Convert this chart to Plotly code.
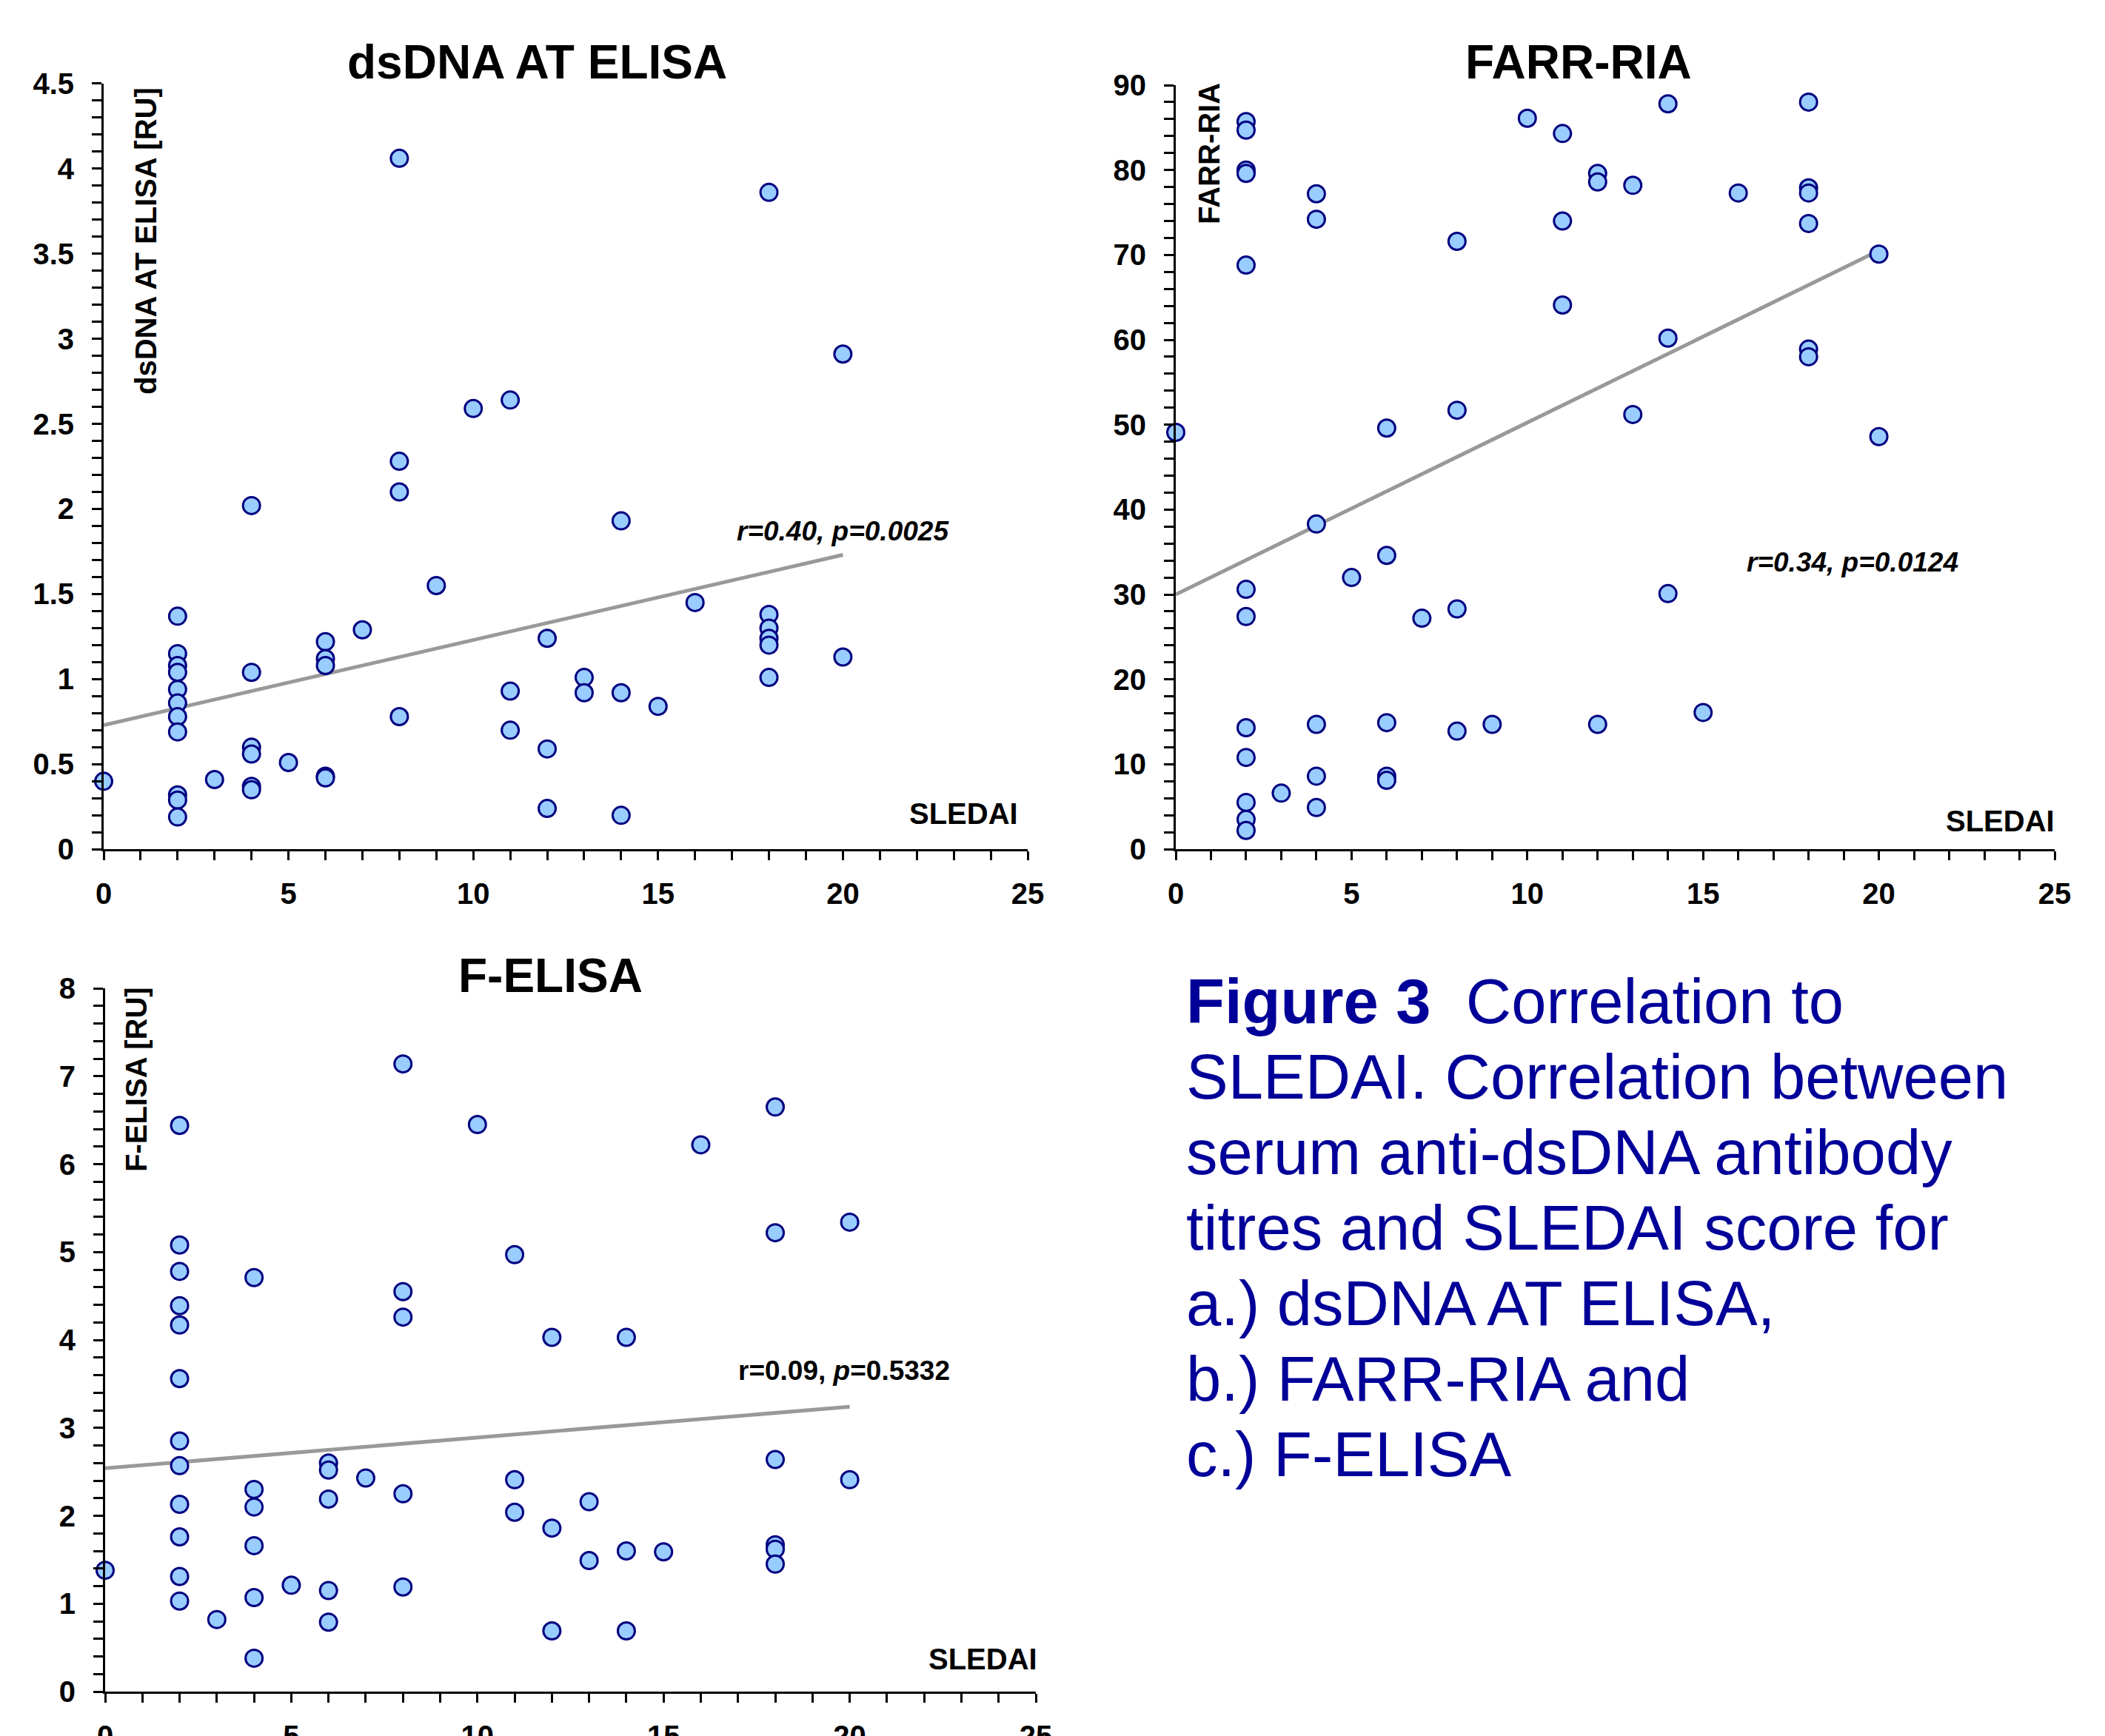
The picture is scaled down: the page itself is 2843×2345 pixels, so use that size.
import plotly.graph_objects as go

# ---------------- data ----------------
# a) dsDNA AT ELISA vs SLEDAI
elisa_sledai = [0,
                2, 2, 2, 2, 2, 2, 2, 2, 2, 2, 2,
                3,
                4, 4, 4, 4, 4, 4,
                5,
                6, 6, 6, 6, 6,
                7,
                8, 8, 8, 8,
                9,
                10,
                11, 11, 11,
                12, 12, 12,
                13, 13,
                14, 14, 14,
                15,
                16,
                18, 18, 18, 18, 18, 18,
                20, 20]
elisa_values = [0.40,
                1.37, 1.15, 1.08, 1.04, 0.94, 0.86, 0.78, 0.69, 0.32, 0.29, 0.19,
                0.41,
                2.02, 1.04, 0.60, 0.56, 0.37, 0.35,
                0.51,
                1.22, 1.12, 1.08, 0.43, 0.42,
                1.29,
                4.06, 2.28, 2.10, 0.78,
                1.55,
                2.59,
                2.64, 0.93, 0.70,
                1.24, 0.59, 0.24,
                1.01, 0.92,
                1.93, 0.92, 0.20,
                0.84,
                1.45,
                3.86, 1.38, 1.30, 1.24, 1.20, 1.01,
                2.91, 1.13]
elisa_fit_x = [0, 20]
elisa_fit_y = [0.73, 1.73]

# b) FARR-RIA vs SLEDAI
farr_sledai = [0,
               2, 2, 2, 2, 2, 2, 2, 2, 2, 2, 2, 2,
               3,
               4, 4, 4, 4, 4, 4,
               5,
               6, 6, 6, 6, 6,
               7,
               8, 8, 8, 8,
               9,
               10,
               11, 11, 11,
               12, 12, 12,
               13, 13,
               14, 14, 14,
               15,
               16,
               18, 18, 18, 18, 18, 18,
               20, 20]
farr_values = [49.1,
               85.7, 84.7, 80.0, 79.6, 68.8, 30.6, 27.4, 14.3, 10.8, 5.5, 3.5, 2.2,
               6.6,
               77.2, 74.2, 38.3, 14.7, 8.6, 4.9,
               32.0,
               49.6, 34.6, 14.9, 8.6, 8.1,
               27.2,
               71.6, 51.7, 28.3, 13.9,
               14.7,
               86.1,
               84.3, 74.0, 64.1,
               79.6, 78.6, 14.7,
               78.2, 51.2,
               87.8, 60.2, 30.1,
               16.1,
               77.3,
               88.0, 77.9, 77.3, 73.7, 58.9, 58.0,
               70.1, 48.6]
farr_fit_x = [0, 20]
farr_fit_y = [30.0, 70.5]

# c) F-ELISA vs SLEDAI
felisa_sledai = [0,
                 2, 2, 2, 2, 2, 2, 2, 2, 2, 2, 2, 2,
                 3,
                 4, 4, 4, 4, 4, 4,
                 5,
                 6, 6, 6, 6, 6,
                 7,
                 8, 8, 8, 8, 8,
                 10,
                 11, 11, 11,
                 12, 12, 12,
                 13, 13,
                 14, 14, 14,
                 15,
                 16,
                 18, 18, 18, 18, 18, 18,
                 20, 20]
felisa_values = [1.38,
                 6.44, 5.08, 4.78, 4.39, 4.17, 3.56, 2.85, 2.57, 2.13, 1.76, 1.31, 1.03,
                 0.82,
                 4.71, 2.30, 2.10, 1.66, 1.07, 0.38,
                 1.21,
                 2.60, 2.52, 2.19, 1.15, 0.79,
                 2.43,
                 7.14, 4.55, 4.26, 2.25, 1.19,
                 6.45,
                 4.97, 2.41, 2.04,
                 4.03, 1.86, 0.69,
                 2.16, 1.49,
                 4.03, 1.60, 0.69,
                 1.59,
                 6.22,
                 6.65, 5.22, 2.64, 1.67, 1.62, 1.45,
                 5.34, 2.41]
felisa_fit_x = [0, 20]
felisa_fit_y = [2.54, 3.24]

# tick labels
x_tickvals = [0, 5, 10, 15, 20, 25]
x_ticktext = ["0", "5", "10", "15", "20", "25"]
elisa_tickvals = [0, 0.5, 1, 1.5, 2, 2.5, 3, 3.5, 4, 4.5]
elisa_ticktext = ["0", "0.5", "1", "1.5", "2", "2.5", "3", "3.5", "4", "4.5"]
farr_tickvals = [0, 10, 20, 30, 40, 50, 60, 70, 80, 90]
farr_ticktext = ["0", "10", "20", "30", "40", "50", "60", "70", "80", "90"]
felisa_tickvals = [0, 1, 2, 3, 4, 5, 6, 7, 8]
felisa_ticktext = ["0", "1", "2", "3", "4", "5", "6", "7", "8"]

titles = ["dsDNA AT ELISA", "FARR-RIA", "F-ELISA"]
y_titles = ["dsDNA AT ELISA [RU]", "FARR-RIA", "F-ELISA [RU]"]
x_label = "SLEDAI"
stats = ["<i>r=0.40, p=0.0025</i>", "<i>r=0.34, p=0.0124</i>", "r=0.09, <i>p</i>=0.5332"]

caption_lines = [
    "<b>Figure 3</b>\u00a0\u00a0Correlation to",
    "SLEDAI. Correlation between",
    "serum anti-dsDNA antibody",
    "titres and SLEDAI score for",
    "a.) dsDNA AT ELISA,",
    "b.) FARR-RIA and",
    "c.) F-ELISA",
]

# ---------------- layout helpers ----------------
W, H = 2843, 2345
OFF = 8  # page body offset of the plot div
FONT = "Liberation Sans, Arial, Helvetica, sans-serif"


def fx(p):
    return (p - OFF) / W


def fy(p):
    return 1 - (p - OFF) / H


MARKER = dict(size=23, color="#99CCFF", line=dict(color="#000080", width=3))
FIT = dict(color="#999999", width=5)

fig = go.Figure()

panels = [
    dict(ax="", x=elisa_sledai, y=elisa_values, fx_=elisa_fit_x, fy_=elisa_fit_y,
         xdom=(140, 1388), ydom=(112.7, 1147.3), yrange=[0, 4.5],
         yvals=elisa_tickvals, ytext=elisa_ticktext, ydminor=0.1,
         title_pos=(725, 84), ytitle_pos=(197, 326),
         stat_pos=(20.0, 1.87), sled_pos=(23.27, 0.21)),
    dict(ax="2", x=farr_sledai, y=farr_values, fx_=farr_fit_x, fy_=farr_fit_y,
         xdom=(1588, 2775), ydom=(115, 1147), yrange=[0, 90],
         yvals=farr_tickvals, ytext=farr_ticktext, ydminor=2,
         title_pos=(2132, 84), ytitle_pos=(1633, 208),
         stat_pos=(19.25, 33.8), sled_pos=(23.46, 3.3)),
    dict(ax="3", x=felisa_sledai, y=felisa_values, fx_=felisa_fit_x, fy_=felisa_fit_y,
         xdom=(142, 1399), ydom=(1335, 2285), yrange=[0, 8],
         yvals=felisa_tickvals, ytext=felisa_ticktext, ydminor=0.2,
         title_pos=(743, 1318), ytitle_pos=(184, 1458),
         stat_pos=(19.85, 3.65), sled_pos=(23.57, 0.37)),
]

annotations = []
for i, p in enumerate(panels):
    xa = "x" + p["ax"]
    ya = "y" + p["ax"]
    fig.add_trace(go.Scatter(x=p["fx_"], y=p["fy_"], mode="lines", line=FIT,
                             xaxis=xa, yaxis=ya, showlegend=False, hoverinfo="skip"))
    fig.add_trace(go.Scatter(x=p["x"], y=p["y"], mode="markers", marker=MARKER,
                             xaxis=xa, yaxis=ya, showlegend=False, cliponaxis=False))

    axis_common = dict(showline=True, linecolor="black", linewidth=3,
                       ticks="outside", tickcolor="black", tickwidth=3,
                       showgrid=False, zeroline=False, fixedrange=True,
                       automargin=False,
                       tickfont=dict(family=FONT, size=40, color="black", weight="bold"))
    fig.layout["xaxis" + p["ax"]] = dict(
        axis_common, domain=[fx(p["xdom"][0]), fx(p["xdom"][1])], range=[0, 25],
        anchor=ya, tickvals=x_tickvals, ticktext=x_ticktext, ticklen=12,
        ticklabelstandoff=11,
        minor=dict(dtick=1, ticks="outside", ticklen=12, tickwidth=3, tickcolor="black"))
    fig.layout["yaxis" + p["ax"]] = dict(
        axis_common, domain=[fy(p["ydom"][1]), fy(p["ydom"][0])], range=p["yrange"],
        anchor=xa, tickvals=p["yvals"], ticktext=p["ytext"], ticklen=13,
        ticklabelstandoff=16,
        minor=dict(dtick=p["ydminor"], ticks="outside", ticklen=13, tickwidth=3,
                   tickcolor="black"))

    annotations.append(dict(text="<b>%s</b>" % titles[i], xref="paper", yref="paper",
                            x=fx(p["title_pos"][0]), y=fy(p["title_pos"][1]),
                            xanchor="center", yanchor="middle", showarrow=False,
                            font=dict(family=FONT, size=64, color="black")))
    annotations.append(dict(text="<b>%s</b>" % y_titles[i], xref="paper", yref="paper",
                            x=fx(p["ytitle_pos"][0]), y=fy(p["ytitle_pos"][1]),
                            xanchor="center", yanchor="middle", showarrow=False,
                            textangle=-90,
                            font=dict(family=FONT, size=40, color="black")))
    annotations.append(dict(text="<b>%s</b>" % stats[i], xref=xa, yref=ya,
                            x=p["stat_pos"][0], y=p["stat_pos"][1],
                            xanchor="center", yanchor="middle", showarrow=False,
                            font=dict(family=FONT, size=37, color="black")))
    annotations.append(dict(text="<b>%s</b>" % x_label, xref=xa, yref=ya,
                            x=p["sled_pos"][0], y=p["sled_pos"][1],
                            xanchor="center", yanchor="middle", showarrow=False,
                            font=dict(family=FONT, size=40, color="black")))

for k, line in enumerate(caption_lines):
    annotations.append(dict(text=line, xref="paper", yref="paper",
                            x=fx(1600), y=fy(1352 + 102 * k),
                            xanchor="left", yanchor="middle", showarrow=False,
                            align="left",
                            font=dict(family=FONT, size=85, color="#000099")))

fig.update_layout(width=W, height=H,
                  margin=dict(l=0, r=0, t=0, b=0, pad=0, autoexpand=False),
                  paper_bgcolor="white", plot_bgcolor="white",
                  annotations=annotations, showlegend=False)

fig.write_html("out.html")
